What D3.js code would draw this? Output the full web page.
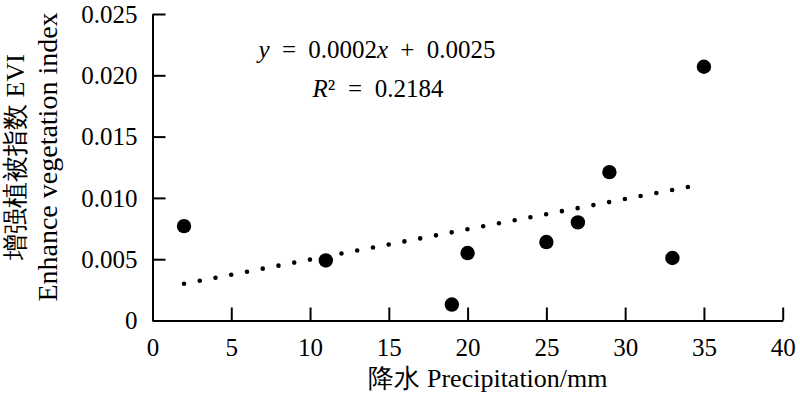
<!DOCTYPE html>
<html>
<head>
<meta charset="utf-8">
<script src="https://cdn.jsdelivr.net/npm/d3@7/dist/d3.min.js"></script>
<style>
  html, body { margin: 0; padding: 0; background: #fff; }
  svg { display: block; }
  svg text { font-family: "Liberation Serif", "Times New Roman", serif !important; fill: #000; }
</style>
</head>
<body>
<svg id="chart" width="800" height="395"></svg>
<script>
// ---- data ----
const precipitation = [2, 11, 19, 20, 25, 27, 29, 33, 35];
const evi = [0.0077, 0.0049, 0.0013, 0.0055, 0.0064, 0.0080, 0.0121, 0.0051, 0.0207];
const trendX = [2, 34];
const trendSlope = 0.000247;
const trendIntercept = 0.0025;
const xTicks = [0, 5, 10, 15, 20, 25, 30, 35, 40];
const yTicks = [0, 0.005, 0.010, 0.015, 0.020, 0.025];
const yTickLabels = ["0", "0.005", "0.010", "0.015", "0.020", "0.025"];
const equationText = "= 0.0002";
const r2Text = "= 0.2184";

(function () {
const svg = d3.select("#chart");
const mLeft = 152.5, mRight = 782.7, mTop = 14, mBottom = 320.5;
const x = d3.scaleLinear().domain([0, 40]).range([mLeft, mRight]);
const y = d3.scaleLinear().domain([0, 0.025]).range([mBottom, mTop]);

const fs = 25;

// axes
const xAxis = d3.axisBottom(x).tickValues(xTicks).tickSizeInner(-13).tickSizeOuter(0).tickFormat(d3.format("d"));
const gx = svg.append("g").attr("transform", `translate(0,${mBottom})`).call(xAxis);
gx.attr("font-family", null);
gx.select(".domain").attr("stroke", "#000").attr("stroke-width", 2);
gx.selectAll(".tick line").attr("stroke", "#000").attr("stroke-width", 2);
gx.selectAll(".tick text").attr("font-size", fs).attr("dy", null).attr("y", 35);

const yAxis = d3.axisLeft(y).tickValues(yTicks).tickSizeInner(-13).tickSizeOuter(0)
  .tickFormat((d, i) => yTickLabels[i]);
const gy = svg.append("g").attr("transform", `translate(${mLeft},0)`).call(yAxis);
gy.attr("font-family", null);
gy.select(".domain").attr("stroke", "#000").attr("stroke-width", 2);
gy.selectAll(".tick line").attr("stroke", "#000").attr("stroke-width", 2);
gy.selectAll(".tick text").attr("font-size", fs).attr("x", -15).attr("dy", "0.33em");

// trend line (dotted)
const tx1 = x(trendX[0]), ty1 = y(trendSlope * trendX[0] + trendIntercept);
const tx2 = x(trendX[1]), ty2 = y(trendSlope * trendX[1] + trendIntercept);
const tLen = Math.hypot(tx2 - tx1, ty2 - ty1);
const nGaps = Math.round(tLen / 16);
const gap = tLen / nGaps - 0.01;
svg.append("line")
  .attr("x1", tx1).attr("y1", ty1)
  .attr("x2", tx2).attr("y2", ty2)
  .attr("stroke", "#000").attr("stroke-width", 4.6)
  .attr("stroke-linecap", "round")
  .attr("stroke-dasharray", `0 ${gap}`);

// points
svg.append("g").selectAll("circle")
  .data(precipitation.map((p, i) => [p, evi[i]]))
  .join("circle")
  .attr("cx", d => x(d[0])).attr("cy", d => y(d[1]))
  .attr("r", 7.2).attr("fill", "#000");

// equation
const eq = svg.append("text").attr("x", 377).attr("y", 58).attr("text-anchor", "middle")
  .attr("font-size", fs).attr("word-spacing", 6);
eq.append("tspan").attr("font-style", "italic").text("y");
eq.append("tspan").text(" " + equationText);
eq.append("tspan").attr("font-style", "italic").text("x");
eq.append("tspan").text(" + 0.0025");

const r2 = svg.append("text").attr("x", 378).attr("y", 97).attr("text-anchor", "middle")
  .attr("font-size", fs).attr("word-spacing", 6.5);
r2.append("tspan").attr("font-style", "italic").text("R");
r2.append("tspan").text("² " + r2Text);

// x title
svg.append("text").attr("x", 488).attr("y", 387).attr("text-anchor", "middle").attr("font-size", 26)
  .text("降水 Precipitation/mm");

// y title
const yt = svg.append("text").attr("transform", "translate(0,157) rotate(-90)").attr("text-anchor", "middle");
yt.append("tspan").attr("x", 0).attr("y", 24).attr("font-size", 26).text("增强植被指数 EVI");
yt.append("tspan").attr("x", 0).attr("y", 57).attr("font-size", 28).text("Enhance vegetation index");
})();
</script>
</body>
</html>
